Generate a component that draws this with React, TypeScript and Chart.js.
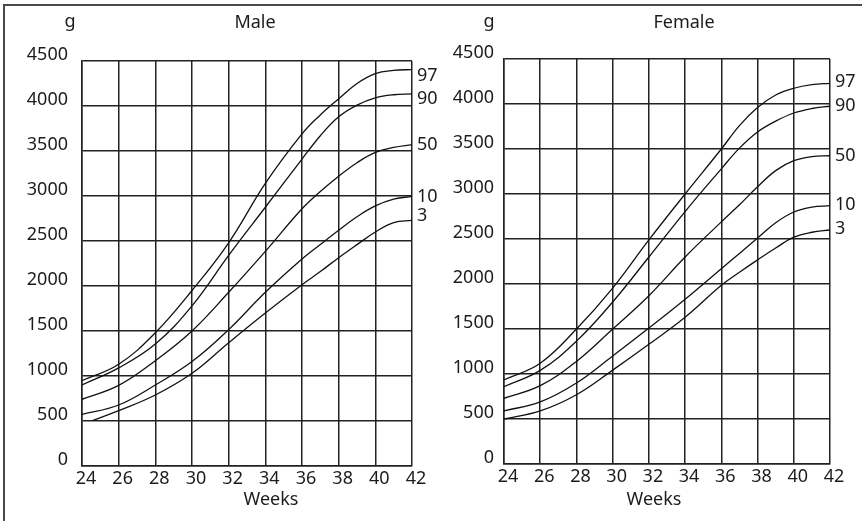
import React, { useEffect, useRef } from "react";
import { Chart, registerables } from "chart.js";

Chart.register(...registerables);

// ---- data (grams by gestational week) ----
const weeks = [24, 26, 28, 30, 32, 34, 36, 37, 38, 39, 40, 41, 42];
const male3Weeks = [24.6, 26, 28, 30, 32, 34, 36, 37, 38, 39, 40, 41, 42];

const male97 = [948, 1130, 1480, 1950, 2480, 3140, 3690, 3900, 4080, 4250, 4360, 4395, 4405];
const male90 = [900, 1090, 1355, 1780, 2340, 2875, 3410, 3670, 3880, 4010, 4090, 4125, 4135];
const male50 = [741, 895, 1170, 1500, 1930, 2385, 2858, 3050, 3220, 3370, 3485, 3540, 3570];
const male10 = [574, 678, 900, 1160, 1515, 1930, 2300, 2460, 2620, 2770, 2890, 2965, 2995];
const male3 = [508, 615, 789, 1030, 1370, 1700, 2015, 2160, 2315, 2460, 2600, 2705, 2730];

const female97 = [935, 1120, 1500, 1955, 2490, 3000, 3500, 3760, 3960, 4100, 4175, 4215, 4230];
const female90 = [860, 1040, 1365, 1800, 2300, 2805, 3280, 3510, 3690, 3810, 3900, 3950, 3975];
const female50 = [730, 870, 1140, 1500, 1870, 2300, 2690, 2880, 3080, 3260, 3370, 3415, 3425];
const female10 = [590, 690, 900, 1200, 1510, 1830, 2170, 2340, 2510, 2680, 2800, 2855, 2870];
const female3 = [500, 590, 770, 1043, 1330, 1630, 1985, 2130, 2268, 2400, 2520, 2575, 2600];

const percentiles = ["97", "90", "50", "10", "3"];
const weekMin = 24;
const weekMax = 42;
const weekStep = 2;
const gramMin = 0;
const gramMax = 4500;
const gramStep = 500;

const INK = "#1c1c1c";
const FONT = "'Noto Sans', sans-serif";
const FSIZE = 18;

const textPlugin = {
  id: "chartTexts",
  afterDraw(chart: any, _args: any, opts: any) {
    const { ctx, chartArea } = chart;
    ctx.save();
    ctx.fillStyle = INK;
    ctx.font = `${FSIZE}px ${FONT}`;
    ctx.textBaseline = "alphabetic";
    ctx.textAlign = "center";
    const cx = (chartArea.left + chartArea.right) / 2;
    ctx.fillText(opts.title, cx + opts.titleDx, 28);
    ctx.fillText("g", chartArea.left + opts.gDx, 27);
    ctx.fillText("Weeks", cx + opts.weeksDx, 505);
    ctx.textAlign = "left";
    ctx.textBaseline = "middle";
    chart.data.datasets.forEach((ds: any, i: number) => {
      const meta = chart.getDatasetMeta(i);
      const last = meta.data[meta.data.length - 1];
      ctx.fillText(ds.label, chartArea.right + 5, last.y + opts.labelDy[i]);
    });
    ctx.restore();
  },
};

function buildChart(canvas: HTMLCanvasElement, cfg: any) {
  const font = { family: FONT, size: FSIZE };
  return new Chart(canvas, {
    type: "line",
    data: {
      datasets: cfg.series.map((vals: number[], i: number) => ({
        label: percentiles[i],
        data: vals.map((v, j) => ({ x: cfg.xs[i][j], y: v })),
        borderColor: "#111",
        borderWidth: 1.3,
        pointRadius: 0,
        fill: false,
        tension: 0.4,
      })),
    },
    options: {
      animation: false,
      responsive: false,
      maintainAspectRatio: false,
      layout: { padding: { left: 0, top: cfg.top, right: cfg.padRight, bottom: cfg.padBottom } },
      plugins: {
        legend: { display: false },
        tooltip: { enabled: false },
        chartTexts: cfg.texts,
      } as any,
      scales: {
        x: {
          type: "linear",
          min: weekMin,
          max: weekMax,
          ticks: {
            stepSize: weekStep,
            padding: 2,
            labelOffset: 4,
            color: INK,
            font,
            maxRotation: 0,
            autoSkip: false,
            callback: (v: any) => String(v),
          },
          grid: { color: "#222", lineWidth: 1.5, drawTicks: false },
          border: { color: "#222", width: 1.5 },
          afterFit: (s: any) => {
            s.height = 30;
          },
        },
        y: {
          min: gramMin,
          max: gramMax,
          ticks: {
            stepSize: gramStep,
            padding: cfg.yPad,
            labelOffset: -6,
            color: INK,
            font,
            autoSkip: false,
            callback: (v: any) => String(v),
          },
          grid: { color: "#222", lineWidth: 1.5, drawTicks: false },
          border: { color: "#222", width: 1.5 },
          afterFit: (s: any) => {
            s.width = cfg.yWidth;
          },
        },
      },
    } as any,
    plugins: [textPlugin],
  });
}

export default function App() {
  const leftRef = useRef<HTMLCanvasElement>(null);
  const rightRef = useRef<HTMLCanvasElement>(null);

  useEffect(() => {
    const left = buildChart(leftRef.current!, {
      series: [male97, male90, male50, male10, male3],
      xs: [weeks, weeks, weeks, weeks, male3Weeks],
      top: 61,
      padRight: 43,
      padBottom: 25,
      yWidth: 82,
      yPad: 14,
      texts: { title: "Male", titleDx: 8, gDx: -12, weeksDx: 24, labelDy: [6, 5, 0, 0, -4] },
    });
    const right = buildChart(rightRef.current!, {
      series: [female97, female90, female50, female10, female3],
      xs: [weeks, weeks, weeks, weeks, weeks],
      top: 59,
      padRight: 32,
      padBottom: 27,
      yWidth: 73,
      yPad: 10,
      texts: { title: "Female", titleDx: 17, gDx: -15, weeksDx: -13, labelDy: [-1, 0, 0, -1, -1] },
    });
    return () => {
      left.destroy();
      right.destroy();
    };
  }, []);

  return (
    <div
      style={{
        position: "fixed",
        left: 0,
        top: 0,
        width: 862,
        height: 521,
        overflow: "hidden",
        background: "#fff",
      }}
    >
      <div
        style={{
          position: "absolute",
          left: 3,
          top: 4,
          width: 900,
          height: 600,
          border: "2px solid #4a4a4a",
        }}
      />
      <canvas
        ref={leftRef}
        width={455}
        height={521}
        style={{ position: "absolute", left: 0, top: 0, width: 455, height: 521 }}
      />
      <canvas
        ref={rightRef}
        width={431}
        height={521}
        style={{ position: "absolute", left: 431, top: 0, width: 431, height: 521 }}
      />
    </div>
  );
}
